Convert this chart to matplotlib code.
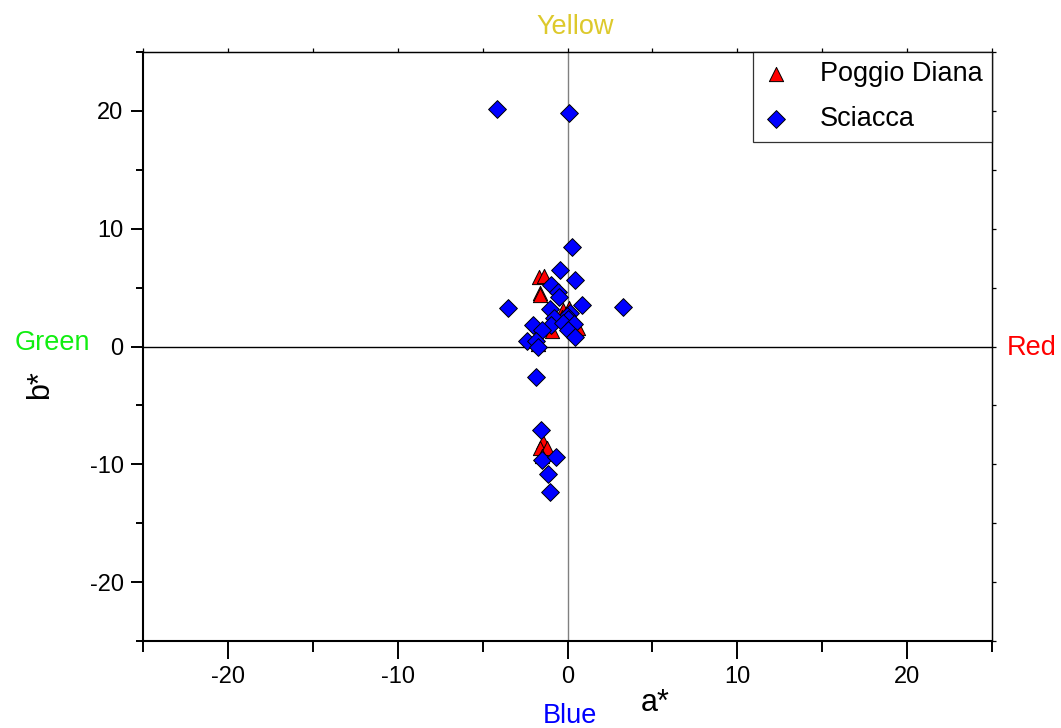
import matplotlib
matplotlib.use("Agg")
import matplotlib.pyplot as plt
from matplotlib.ticker import MultipleLocator

plt.rcParams['font.family'] = ['Liberation Sans', 'DejaVu Sans']
plt.rcParams['axes.unicode_minus'] = False

# CIELAB chromaticity coordinates (a*, b*) for the two sites
poggio_a = [-1.65, -1.38, -1.62, -1.60, -0.28, -0.34, -0.93, 0.64, -1.72,
            -1.42, -1.62, -1.23, -1.50, 0.10]
poggio_b = [5.93, 5.99, 4.52, 4.40, 3.10, 2.50, 1.30, 1.60, 0.20,
            -8.08, -8.65, -8.65, -9.30, 3.30]

sciacca_a = [-4.13, 0.10, 0.28, -0.44, 0.46, -3.50, 3.25, 0.84, -0.97, -0.55,
             -0.50, -1.03, 0.15, -0.05, -0.80, 0.05, -0.97, -2.01, -0.25, 0.40,
             0.05, -1.50, 0.44, -2.40, -1.85, -1.75, -1.87, -1.56, -1.52, -0.68,
             -1.17, -1.03]
sciacca_b = [20.14, 19.80, 8.42, 6.50, 5.65, 3.25, 3.35, 3.50, 5.22, 4.66,
             4.20, 3.20, 2.85, 2.60, 2.40, 2.30, 1.80, 1.83, 1.97, 1.90,
             1.40, 1.40, 0.80, 0.45, 0.45, 0.00, -2.60, -7.09, -9.64, -9.41,
             -10.83, -12.33]

major_ticks = [-20, -10, 0, 10, 20]

W, H = 1061, 728
fig = plt.figure(figsize=(W / 100, H / 100), dpi=100)
ax = fig.add_axes([143 / W, 1 - 641 / H, (992 - 143) / W, (641 - 52) / H])

ax.set_xlim(-25, 25)
ax.set_ylim(-25, 25)

# zero reference lines
ax.axvline(0, color='#808080', lw=1.0, zorder=1)
ax.axhline(0, color='black', lw=1.0, zorder=1)

ax.scatter(poggio_a, poggio_b, marker='^', s=105, facecolor='#ff0000',
           edgecolor='black', linewidth=0.7, zorder=3, label='Poggio Diana')
ax.scatter(sciacca_a, sciacca_b, marker='D', s=82, facecolor='#0000ff',
           edgecolor='black', linewidth=0.7, zorder=4, label='Sciacca')

ax.set_xticks(major_ticks)
ax.set_yticks(major_ticks)
ax.xaxis.set_minor_locator(MultipleLocator(5))
ax.yaxis.set_minor_locator(MultipleLocator(5))
ax.tick_params(axis='x', which='major', direction='out', length=13, width=1.4,
               labelsize=17, pad=5)
ax.tick_params(axis='x', which='minor', direction='out', length=8, width=1.4)
ax.tick_params(axis='y', which='major', direction='out', length=9, width=1.4,
               labelsize=17, pad=5)
ax.tick_params(axis='y', which='minor', direction='out', length=5, width=1.4)

for side in ('bottom', 'left'):
    ax.spines[side].set_linewidth(1.5)
for side in ('top', 'right'):
    ax.spines[side].set_linewidth(0.9)

# small outward ticks on the top and right frame
top = ax.secondary_xaxis('top')
top.set_xticks(major_ticks)
top.xaxis.set_minor_locator(MultipleLocator(5))
top.tick_params(which='both', length=3, width=0.9, labeltop=False)
top.spines['top'].set_linewidth(0.9)
right = ax.secondary_yaxis('right')
right.set_yticks(major_ticks)
right.yaxis.set_minor_locator(MultipleLocator(5))
right.tick_params(which='both', length=3, width=0.9, labelright=False)
right.spines['right'].set_linewidth(0.9)

leg = ax.legend(loc='upper right', bbox_to_anchor=(1.0, 1.0), fontsize=19.5,
                frameon=True, fancybox=False, borderaxespad=0.0,
                borderpad=0.35, handlelength=1.0, handletextpad=1.1,
                labelspacing=0.7, scatterpoints=1)
leg.get_frame().set_edgecolor('black')
leg.get_frame().set_linewidth(0.9)
leg.set_zorder(10)

# axis titles and colour directions
fig.text(655 / W, 1 - 703 / H, 'a*', fontsize=22, ha='center', va='center')
fig.text(40 / W, 1 - 385 / H, 'b*', fontsize=22, ha='center', va='center',
         rotation=90)
fig.text(575 / W, 1 - 27 / H, 'Yellow', fontsize=19.5, color='#ddc92c',
         ha='center', va='center')
fig.text(52 / W, 1 - 343 / H, 'Green', fontsize=19.5, color='#11ee11',
         ha='center', va='center')
fig.text(1032 / W, 1 - 348 / H, 'Red', fontsize=19.5, color='#ff0000',
         ha='center', va='center')
fig.text(570 / W, 1 - 716 / H, 'Blue', fontsize=19.5, color='#0000ff',
         ha='center', va='center')

fig.savefig('out.png', dpi=100)
